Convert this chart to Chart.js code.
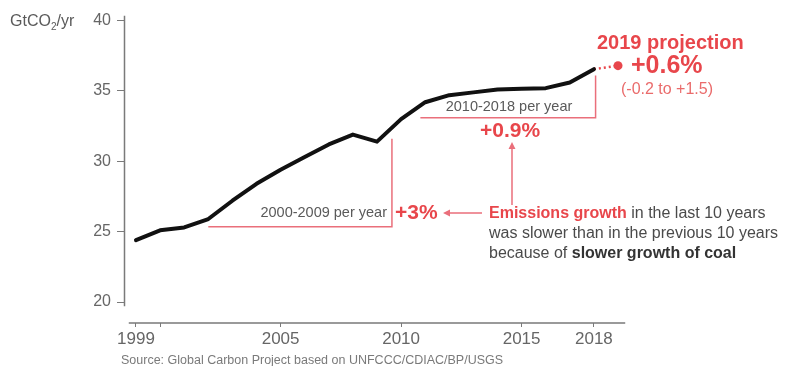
<!DOCTYPE html>
<html>
<head>
<meta charset="utf-8">
<title>Global CO2 emissions</title>
<script src="https://cdn.jsdelivr.net/npm/chart.js@4.4.1/dist/chart.umd.min.js"></script>
<style>
  html, body { margin: 0; padding: 0; background: #fff; }
  #wrap { width: 788px; height: 366px; position: relative; }
</style>
</head>
<body>
<div id="wrap"><canvas id="emissionsChart" width="788" height="366"></canvas></div>
<script>
// fossil CO2 emissions, GtCO2 per year
const years = [1999, 2000, 2001, 2002, 2003, 2004, 2005, 2006, 2007, 2008,
    2009, 2010, 2011, 2012, 2013, 2014, 2015, 2016, 2017, 2018];
const emissions = [24.4, 25.1, 25.3, 25.9, 27.2, 28.4, 29.4, 30.3, 31.2, 31.9,
    31.4, 33.0, 34.2, 34.7, 34.9, 35.1, 35.15, 35.2, 35.6, 36.55];
const projectionYears = [2018, 2019];
const projectionValues = [36.55, 36.8];

const yTickValues = [20, 25, 30, 35, 40];
const xTickValues = [1999, 2000, 2005, 2010, 2015, 2018];
const xTickLabels = ['1999', '', '2005', '2010', '2015', '2018'];

const RED = '#e8464b';
const RED_LINE = '#ea6f7b';
const GREY = '#5a5a5a';
const FONT = '"Liberation Sans", Arial, sans-serif';

const toPoints = (xs, ys) => xs.map((x, i) => ({ x: x, y: ys[i] }));

// axis lines (detached, like the original) and all the notes
const notesPlugin = {
    id: 'notes',
    afterDraw(chart) {
        const ctx = chart.ctx;
        const xs = chart.scales.x;
        const ys = chart.scales.y;
        const px = (v) => xs.getPixelForValue(v);
        const py = (v) => ys.getPixelForValue(v);

        ctx.save();
        // axes
        ctx.strokeStyle = '#7a7a7a';
        ctx.lineWidth = 1.5;
        ctx.beginPath();
        ctx.moveTo(chart.chartArea.left - 0.5, py(40.35));
        ctx.lineTo(chart.chartArea.left - 0.5, py(19.7));
        ctx.moveTo(px(1998.7), chart.chartArea.bottom);
        ctx.lineTo(px(2019.3), chart.chartArea.bottom);
        ctx.stroke();

        // unit label
        ctx.fillStyle = GREY;
        ctx.textBaseline = 'middle';
        ctx.textAlign = 'left';
        ctx.font = '16px ' + FONT;
        ctx.fillText('GtCO', 10, 22);
        let w = ctx.measureText('GtCO').width;
        ctx.font = '10px ' + FONT;
        ctx.fillText('2', 10 + w, 27);
        w += ctx.measureText('2').width;
        ctx.font = '16px ' + FONT;
        ctx.fillText('/yr', 10 + w, 22);

        // brackets
        ctx.strokeStyle = RED_LINE;
        ctx.lineWidth = 1.5;
        ctx.beginPath();
        ctx.moveTo(px(2002), py(25.35));
        ctx.lineTo(px(2009.62), py(25.35));
        ctx.lineTo(px(2009.62), py(31.6));
        ctx.moveTo(px(2010.8), py(33.1));
        ctx.lineTo(px(2018.07), py(33.1));
        ctx.lineTo(px(2018.07), py(36.1));
        ctx.stroke();

        // arrows
        ctx.beginPath();
        ctx.moveTo(448, 213);
        ctx.lineTo(482, 213);
        ctx.moveTo(512, 147);
        ctx.lineTo(512, 205);
        ctx.stroke();
        ctx.fillStyle = RED_LINE;
        ctx.beginPath();
        ctx.moveTo(443, 213);
        ctx.lineTo(450, 209.5);
        ctx.lineTo(450, 216.5);
        ctx.closePath();
        ctx.moveTo(512, 142);
        ctx.lineTo(508.5, 149);
        ctx.lineTo(515.5, 149);
        ctx.closePath();
        ctx.fill();

        // period labels
        ctx.fillStyle = GREY;
        ctx.font = '14.5px ' + FONT;
        ctx.textAlign = 'right';
        ctx.fillText('2000-2009 per year', 387, 213);
        ctx.textAlign = 'center';
        ctx.fillText('2010-2018 per year', 509, 107);

        ctx.fillStyle = RED;
        ctx.font = 'bold 21px ' + FONT;
        ctx.textAlign = 'left';
        ctx.fillText('+3%', 395, 213);
        ctx.textAlign = 'center';
        ctx.fillText('+0.9%', 510, 131);

        // projection
        ctx.textAlign = 'left';
        ctx.font = 'bold 20px ' + FONT;
        ctx.fillText('2019 projection', 597, 43);
        ctx.font = 'bold 25px ' + FONT;
        ctx.fillText('+0.6%', 631, 66);
        ctx.fillStyle = '#ea6b6b';
        ctx.font = '16px ' + FONT;
        ctx.textAlign = 'center';
        ctx.fillText('(-0.2 to +1.5)', 667, 90);

        // explanation, mixed weights
        const runs = [
            [['Emissions growth', 'bold', RED], [' in the last 10 years', '', '#4a4a4a']],
            [['was slower than in the previous 10 years', '', '#4a4a4a']],
            [['because of ', '', '#4a4a4a'], ['slower growth of coal', 'bold', '#333']],
        ];
        ctx.textAlign = 'left';
        runs.forEach((line, i) => {
            let x = 489;
            const y = 214 + i * 20;
            line.forEach(([txt, weight, color]) => {
                ctx.font = (weight ? weight + ' ' : '') + '16px ' + FONT;
                ctx.fillStyle = color;
                ctx.fillText(txt, x, y);
                x += ctx.measureText(txt).width;
            });
        });

        // source
        ctx.fillStyle = '#7a7a7a';
        ctx.font = '12.5px ' + FONT;
        ctx.fillText('Source: Global Carbon Project based on UNFCCC/CDIAC/BP/USGS', 121, 361);
        ctx.restore();
    },
};

const renderEmissionsChart = () => {
    var ctx = document.getElementById('emissionsChart').getContext('2d');
    var emissionsChart = new Chart(ctx, {
        type: 'line',
        data: {
            datasets: [{
                label: 'Emissions',
                data: toPoints(years, emissions),
                borderColor: '#111',
                borderWidth: 4,
                pointRadius: 0,
                tension: 0,
                borderCapStyle: 'round',
                borderJoinStyle: 'round',
            }, {
                label: '2019 projection',
                data: toPoints(projectionYears, projectionValues),
                borderColor: RED,
                backgroundColor: RED,
                borderWidth: 2.5,
                borderDash: [2, 3],
                pointRadius: [0, 4.5],
                pointBorderWidth: 0,
            }],
        },
        options: {
            responsive: false,
            animation: false,
            devicePixelRatio: 1,
            layout: {
                padding: { top: 15, right: 158, left: 0, bottom: 0 },
            },
            plugins: {
                legend: { display: false },
                tooltip: { enabled: false },
            },
            scales: {
                x: {
                    type: 'linear',
                    min: 1998.544,
                    max: 2019.498,
                    afterBuildTicks: (scale) => {
                        scale.ticks = xTickValues.map((v) => ({ value: v }));
                    },
                    afterFit: (scale) => { scale.height = 43; },
                    border: { display: false },
                    grid: {
                        drawOnChartArea: false,
                        drawTicks: true,
                        tickLength: 4,
                        color: '#7a7a7a',
                        lineWidth: 1,
                    },
                    ticks: {
                        padding: 2,
                        maxRotation: 0,
                        autoSkip: false,
                        color: '#666',
                        font: { family: FONT, size: 17 },
                        callback: (v) => xTickLabels[xTickValues.indexOf(v)],
                    },
                },
                y: {
                    type: 'linear',
                    min: 18.511,
                    max: 40.355,
                    afterBuildTicks: (scale) => {
                        scale.ticks = yTickValues.map((v) => ({ value: v }));
                    },
                    afterFit: (scale) => { scale.width = 125; },
                    border: { display: false },
                    grid: {
                        drawOnChartArea: false,
                        drawTicks: true,
                        tickLength: 8,
                        color: '#7a7a7a',
                        lineWidth: 1,
                    },
                    ticks: {
                        padding: 6,
                        color: '#666',
                        font: { family: FONT, size: 16 },
                    },
                },
            },
        },
        plugins: [notesPlugin],
    });
};

renderEmissionsChart();
</script>
</body>
</html>
